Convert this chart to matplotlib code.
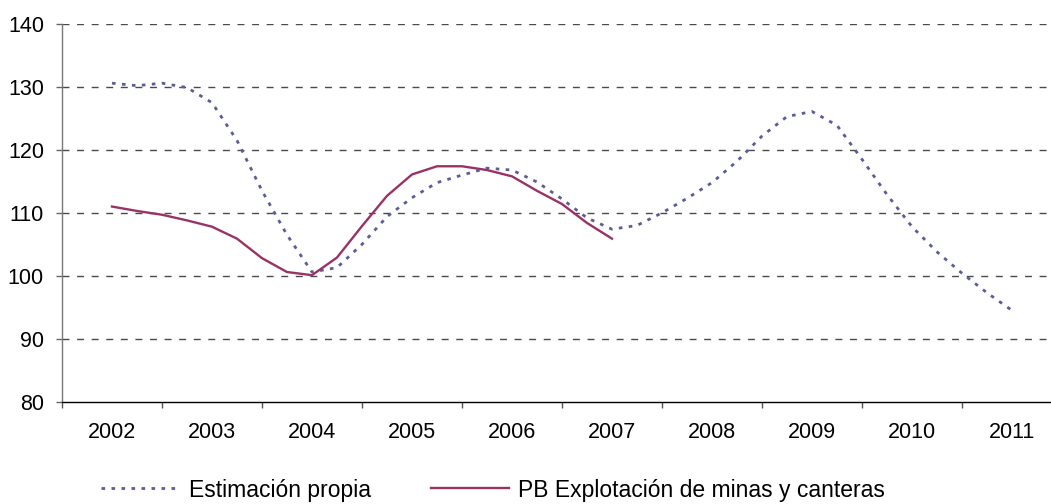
import matplotlib
matplotlib.use("Agg")
import matplotlib.pyplot as plt
import numpy as np

plt.rcParams['font.family'] = ['Liberation Sans', 'DejaVu Sans']

years = [2002, 2003, 2004, 2005, 2006, 2007, 2008, 2009, 2010, 2011]

# quarterly points, 2002 through 2011
estimacion_propia = [130.6, 130.2, 130.6, 129.9,
                     127.5, 121.5, 113.5, 106.5,
                     100.6, 101.3, 105.0, 109.4,
                     112.4, 114.8, 116.0, 117.1,
                     116.8, 114.9, 112.2, 109.2,
                     107.4, 108.0, 110.0, 112.3,
                     114.8, 118.2, 122.2, 125.3,
                     126.1, 123.9, 118.5, 112.9,
                     107.8, 103.8, 100.4, 97.3,
                     94.5]

pb_minas = [111.0, 110.3, 109.7, 108.8,
            107.8, 105.9, 102.8, 100.6,
            100.1, 102.9, 107.9, 112.7,
            116.1, 117.4, 117.4, 116.8,
            115.8, 113.5, 111.4, 108.4,
            105.9]

label_est = "Estimación propia"
label_pb = "PB Explotación de minas y canteras"

x_est = years[0] + np.arange(len(estimacion_propia)) / 4.0
x_pb = years[0] + np.arange(len(pb_minas)) / 4.0

fig = plt.figure(figsize=(10.51, 5.04), dpi=100)
ax = fig.add_axes([62 / 1051, (504 - 401.7) / 504, 1000 / 1051, 377.7 / 504])

ax.set_xlim(years[0] - 0.5, years[-1] + 0.5)
ax.set_ylim(80, 140)

for yv in range(90, 141, 10):
    ax.axhline(yv, color='#4a4a4a', lw=1.0, ls=(0, (5, 5.5)), zorder=1)

l1, = ax.plot(x_est, estimacion_propia, color='#5C5C9A', lw=2.0,
              ls=(0, (1.3, 2.3)), zorder=3, label=label_est)
l2, = ax.plot(x_pb, pb_minas, color='#993366', lw=1.7, zorder=4,
              label=label_pb)

# category boundaries as ticks, labels centered on categories
ax.set_xticks([y - 0.5 for y in years] + [years[-1] + 0.5])
ax.set_xticklabels([])
ax.set_xticks(years, minor=True)
ax.set_xticklabels([str(y) for y in years], minor=True)
ax.tick_params(axis='x', which='major', direction='out', length=4, width=1,
               color='#555555')
ax.tick_params(axis='x', which='minor', length=0, pad=14.5, labelsize=15.5)

ax.set_yticks(range(80, 141, 10))
ax.tick_params(axis='y', direction='out', length=4.5, width=1, color='#666666',
               pad=8.5, labelsize=15.5)

for s in ['top', 'right']:
    ax.spines[s].set_visible(False)
ax.spines['left'].set_color('#777777')
ax.spines['bottom'].set_color('#000000')
ax.spines['left'].set_linewidth(1.0)
ax.spines['bottom'].set_linewidth(1.0)

leg1 = fig.legend(handles=[l1], loc='center left',
                  bbox_to_anchor=(101 / 1051, 1 - 490 / 504), frameon=False,
                  fontsize=16.5, handlelength=3.4, handletextpad=0.45,
                  borderaxespad=0, borderpad=0)
leg2 = fig.legend(handles=[l2], loc='center left',
                  bbox_to_anchor=(431 / 1051, 1 - 490 / 504), frameon=False,
                  fontsize=16.5, handlelength=3.4, handletextpad=0.4,
                  borderaxespad=0, borderpad=0)

fig.savefig("out.png", dpi=100)
